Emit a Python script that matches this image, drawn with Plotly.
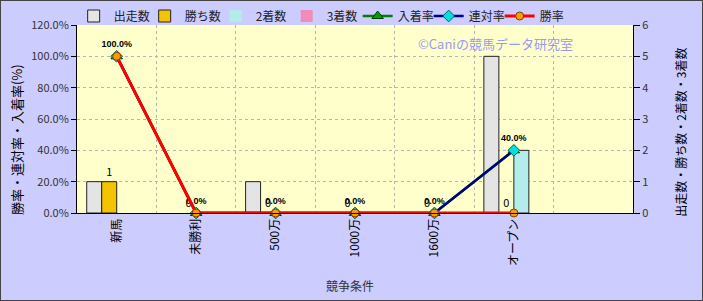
import plotly.graph_objects as go

# ---- data ----
CATEGORIES = ["新馬", "未勝利", "500万", "1000万", "1600万", "オープン"]
EXTRA_SLOT = " "                      # empty 7th category slot on the axis
STARTS = [1, 0, 1, 0, 0, 5]           # 出走数
WINS = [1, 0, 0, 0, 0, 0]             # 勝ち数
SECONDS = [0, 0, 0, 0, 0, 2]          # 2着数
THIRDS = [0, 0, 0, 0, 0, 0]           # 3着数
PLACE_RATE = [100, 0, 0, 0, 0, 40]    # 入着率 (%)
QUINELLA_RATE = [100, 0, 0, 0, 0, 40] # 連対率 (%)
WIN_RATE = [100, 0, 0, 0, 0, 0]       # 勝率 (%)
LEFT_TICKS = [0, 20, 40, 60, 80, 100, 120]
LEFT_TICK_TEXT = [f"{v:.1f}%" for v in LEFT_TICKS]
RIGHT_TICKS = [0, 1, 2, 3, 4, 5, 6]

FONT = "Noto Sans CJK JP"
OUTLINE = "#222222"


def outline(values):
    # zero-height bars get no outline, like the reference
    return dict(color=OUTLINE, width=[1 if v > 0 else 0 for v in values])


fig = go.Figure()

fig.add_trace(go.Bar(name="出走数", x=CATEGORIES, y=STARTS, yaxis="y",
                     marker=dict(color="#e4e4e4", line=outline(STARTS))))
fig.add_trace(go.Bar(name="勝ち数", x=CATEGORIES, y=WINS, yaxis="y",
                     text=WINS, textposition="outside", cliponaxis=False,
                     textfont=dict(size=11, color="#000000", family=FONT),
                     marker=dict(color="#f5c400", line=outline(WINS))))
fig.add_trace(go.Bar(name="2着数", x=CATEGORIES, y=SECONDS, yaxis="y",
                     marker=dict(color="#b4ecec", line=outline(SECONDS))))
fig.add_trace(go.Bar(name="3着数", x=CATEGORIES, y=THIRDS, yaxis="y",
                     marker=dict(color="#f08cb8", line=outline(THIRDS))))

fig.add_trace(go.Scatter(name="入着率", x=CATEGORIES, y=PLACE_RATE, yaxis="y2",
                         mode="lines+markers", cliponaxis=False,
                         line=dict(color="#008000", width=2.5),
                         marker=dict(symbol="triangle-up", size=10, color="#00a000",
                                     line=dict(color="#004000", width=1))))
fig.add_trace(go.Scatter(name="連対率", x=CATEGORIES, y=QUINELLA_RATE, yaxis="y2",
                         mode="lines+markers+text", cliponaxis=False,
                         texttemplate="<b>%{y:.1f}%</b>", textposition="top center",
                         textfont=dict(size=9, color="#000000", family="Liberation Sans"),
                         line=dict(color="#000080", width=2.5),
                         marker=dict(symbol="diamond", size=9, color="#00e0e0",
                                     line=dict(color="#006060", width=1))))
fig.add_trace(go.Scatter(name="勝率", x=CATEGORIES, y=WIN_RATE, yaxis="y2",
                         mode="lines+markers", cliponaxis=False,
                         line=dict(color="#ff0000", width=3),
                         marker=dict(symbol="circle", size=8, color="#ff9900",
                                     line=dict(color="#804000", width=1))))

fig.update_layout(
    width=703, height=301,
    margin=dict(l=77, r=70, t=25, b=88, pad=0, autoexpand=False),
    paper_bgcolor="#ccccff", plot_bgcolor="#ffffcc",
    font=dict(family=FONT, size=11, color="#222222"),
    barmode="group", bargap=0.245, bargroupgap=0,
    showlegend=True,
    legend=dict(orientation="h", x=-0.006, y=1.125, xanchor="left", yanchor="top",
                font=dict(size=12, color="#222222", family=FONT),
                bgcolor="rgba(0,0,0,0)", traceorder="normal",
                entrywidth=26, entrywidthmode="pixels"),
    xaxis=dict(type="category", categoryorder="array",
               categoryarray=CATEGORIES + [EXTRA_SLOT],
               range=[-0.5, len(CATEGORIES) + 0.5],
               tickson="boundaries", showgrid=True, gridcolor="#b4b4b4",
               griddash="dot", gridwidth=1,
               showline=True, linecolor="#000000", linewidth=1,
               ticks="", tickangle=-90,
               tickfont=dict(size=12, color="#000000", family=FONT)),
    yaxis=dict(side="right", range=[0, 6], tickvals=RIGHT_TICKS,
               showgrid=True, gridcolor="#b4b4b4", griddash="dot", gridwidth=1,
               zeroline=False, showline=True, linecolor="#000000", linewidth=1,
               ticks="outside", ticklen=6, tickcolor="#000000",
               tickfont=dict(size=11, color="#333333", family=FONT)),
    yaxis2=dict(overlaying="y", side="left", range=[0, 120],
                tickvals=LEFT_TICKS, ticktext=LEFT_TICK_TEXT,
                showgrid=False, zeroline=False,
                showline=True, linecolor="#000000", linewidth=1,
                ticks="outside", ticklen=5, tickcolor="#000000",
                tickfont=dict(size=11, color="#333333", family=FONT)),
    annotations=[
        dict(text="勝率・連対率・入着率(%)", xref="paper", yref="paper",
             x=-0.1097, y=0.388, xanchor="center", yanchor="middle",
             showarrow=False, textangle=-90,
             font=dict(size=13, color="#000000", family=FONT)),
        dict(text="出走数・勝ち数・2着数・3着数", xref="paper", yref="paper",
             x=1.086, y=0.431, xanchor="center", yanchor="middle",
             showarrow=False, textangle=-90,
             font=dict(size=12, color="#000000", family=FONT)),
        dict(text="競争条件", xref="paper", yref="paper",
             x=0.491, y=-0.383, xanchor="center", yanchor="middle",
             showarrow=False,
             font=dict(size=12, color="#333333", family=FONT)),
        dict(text="©Caniの競馬データ研究室", xref="paper", yref="paper",
             x=0.752, y=0.904, xanchor="center", yanchor="middle",
             showarrow=False,
             font=dict(size=13, color="#9a9af0", family=FONT)),
    ],
    shapes=[
        dict(type="rect", xref="paper", yref="paper",
             x0=-77 / 556, x1=1 + 70 / 556, y0=-88 / 188, y1=1 + 25 / 188,
             line=dict(color="#444444", width=2), layer="above"),
    ],
)

fig.write_html("out.html", config={"displayModeBar": False})
